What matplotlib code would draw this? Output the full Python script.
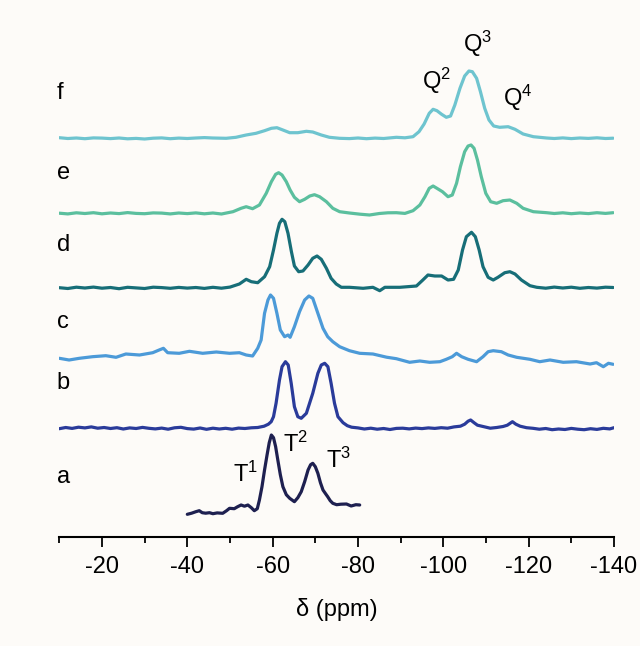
import matplotlib
matplotlib.use("Agg")
import matplotlib.pyplot as plt
from matplotlib.ticker import MultipleLocator

plt.rcParams["font.family"] = ["Liberation Sans", "DejaVu Sans"]
plt.rcParams["mathtext.fontset"] = "custom"
plt.rcParams["mathtext.rm"] = "Liberation Sans"
plt.rcParams["mathtext.default"] = "regular"
plt.rcParams["axes.unicode_minus"] = False

# 29Si NMR traces (ppm, intensity above own baseline)
a_ppm = [-40, -41, -42, -42.8, -43.5, -44.3, -45.2, -46, -47, -48.3, -49.2, -49.9, -51,
         -51.8, -52.6, -53.4, -54.2, -55, -55.7, -56.4, -56.9, -57.5, -58.1, -58.7,
         -59.2, -59.7, -60.2, -60.7, -61.2, -61.8, -62.4, -63.2, -64.0, -65.1, -65.9,
         -66.7, -67.5, -68.3, -68.9, -69.4, -70, -70.6, -71.2, -71.8, -72.4, -72.9,
         -73.5, -74.1, -75, -76, -77.3, -78.4, -79.5, -80.4]
a_int = [0.4, 1.5, 3, 4, 2, 1.5, 2, 1, 1.8, 1.4, 4, 6.4, 6,
         8, 9.7, 8.5, 9.7, 7, 4, 6, 14.7, 28, 44.7, 60,
         72, 79.7, 77, 68, 55, 40, 28, 20, 16.4, 13, 17,
         23, 33, 44.7, 50, 51.4, 48, 41.4, 32, 24.7, 21, 18,
         14, 11.4, 10, 10.5, 10.7, 8.7, 10, 9.7]

b_ppm = [-10, -11.5, -13, -14.5, -16, -17.5, -19, -20.5, -22, -23.5, -25, -26.5, -28,
         -29.5, -31, -32.5, -34, -35.5, -37, -38.5, -40, -41.5, -43, -44.5, -46, -47.5,
         -49, -50.5, -52, -53.5, -55, -56.5, -58, -59.0, -59.66, -60.2, -60.8, -61.6,
         -62.2, -63.0, -63.65, -64.35, -65.1, -65.9, -66.7, -67.9, -69.4, -70.6, -71.4,
         -72.2, -72.95, -73.7, -74.5, -75.3, -76.5, -77.5, -78.5, -80, -81.5, -83, -84.5,
         -86, -87.5, -89, -90.5, -92, -93.5, -95, -96.5, -98, -99.5, -101, -102.5, -104,
         -105, -105.8, -106.4, -107.2, -108, -109, -110, -111, -112.5, -114, -115,
         -116.2, -117, -118, -119.5, -121, -122.5, -124, -125.5, -127, -128.5, -130,
         -131.5, -133, -134.5, -136, -137.5, -139, -140]
b_int = [0, 1.2, 0.3, 1.5, 0.8, 1.8, 0.5, 1.2, 0.2, 1, -0.3, 0.8, 0.2,
         1.3, 0.4, -0.2, 0.6, -0.5, 0.9, 1.4, 0.1, -0.4, 0.7, -0.6, 0.5, -0.3,
         0.4, -0.5, 0.6, 0.2, 0.9, 1.2, 2.5, 4.5, 7, 12, 25.4, 48.7,
         62, 67, 63.7, 45.4, 22, 12, 10.4, 15.4, 35.4, 55.4, 63.7,
         65.4, 62, 45.4, 25.4, 12, 6, 3, 1.5, 0.8, -0.3, 0.5, -0.5,
         0.2, -0.8, 0.3, 0.5, -0.2, 0.6, 0.1, 0.8, 0.3, 1, 0.5, 1.8, 2.5,
         4.5, 7.5, 8.7, 6, 3.5, 2.5, 1.5, 0.5, 1.2, 2.2, 3.5,
         7, 4.5, 2.5, 1, 0.4, -0.5, 0.2, -1, -0.3, -0.8, 0.3,
         -0.5, -1, 0, -0.7, 0.4, -0.2, 1]

c_ppm = [-10, -12.3, -14.7, -17.8, -20.9, -23.3, -25.6, -28.8, -31.9, -33.4, -34.4,
         -35.4, -38.1, -40.5, -43.6, -46.8, -49.9, -52.2, -53.8, -55.3, -56.5, -57.3,
         -58.1, -58.9, -59.5, -60.2, -61.0, -61.8, -62.8, -63.6, -64.1, -65.1, -66.3,
         -67.5, -68.5, -69.4, -70.6, -71.8, -72.9, -74.1, -75.7, -78.0, -80.4, -83.5,
         -86.7, -89.0, -92.1, -94.5, -96.8, -99.2, -100.7, -102.1, -103.1, -104.3,
         -105.8, -107.8, -109.3, -110.5, -111.7, -113.6, -115.2, -117.2, -120.3,
         -122.6, -125.0, -128.1, -131.2, -134.4, -135.9, -137.5, -138.7, -139.8]
c_int = [0.4, -1.3, 0.4, 2, 3, 1.4, 4.7, 3.7, 6, 8.7, 10.4,
         6, 5.4, 7.4, 5.4, 6.7, 5.4, 6, 3.7, 2.7, 10.4, 18.7,
         45.4, 58.7, 63.7, 60.4, 45.4, 28.7, 22, 23.7, 21.4, 32, 47,
         58.7, 62.7, 60.4, 45.4, 30.4, 22, 17, 12, 8, 5.4, 4.7,
         1.5, 0, -3.6, -2.3, -3.6, -3, -0.6, 2, 5.4, 2,
         -0.6, -3, 2, 7, 8, 7, 3.7, 1.4, -0.6,
         -3, -1.3, -3.6, -3, -5.3, -4, -8, -4.6, -5.6]

d_ppm = [-10, -12, -14, -16, -18, -20, -22, -24, -26, -28, -30, -32, -34, -36, -38,
         -40, -42, -44, -46, -48, -50, -52.2, -53.8, -55.0, -56.5, -58.1, -59.3, -60.2,
         -61.0, -61.6, -62.2, -62.85, -63.6, -64.4, -65.1, -66.1, -67.1, -68.3, -69.4,
         -70.4, -71.4, -72.6, -73.7, -74.9, -76.1, -78.0, -81.2, -83.5, -85.1, -86.3,
         -89.8, -93.7, -95.2, -96.4, -98.0, -99.6, -101.1, -102.4, -103.5, -104.5,
         -105.4, -106.6, -107.5, -108.4, -109.3, -110.5, -111.7, -112.8, -114.4,
         -115.6, -116.8, -118.3, -120.3, -121.9, -124, -126, -128, -130, -132, -134,
         -136, -138, -139.8]
d_int = [0, -0.8, 0.5, -0.3, 0.6, -0.5, 0.2, -1, 0.4, -0.2, -0.8, 0.5, 0.1, -0.6, 0.3,
         -0.4, 0.2, -0.7, 0.4, -0.5, 0.6, 3.7, 8.4, 6, 5, 11, 21, 37.7,
         54.4, 64.4, 68.4, 66, 54.4, 36, 21.7, 16, 16.7, 22.7, 29.4,
         31.7, 28.4, 19.4, 9.4, 3.7, 0.4, 0.4, -0.6, 0.4, -3, 0.4,
         0.4, 1.7, 7.7, 12.7, 11.7, 11.7, 7.7, 8.4, 17.7, 37.7,
         51, 55.4, 51, 37.7, 21, 10.4, 7.7, 10.4, 15,
         16, 13.7, 7.7, 2, 0.4, -0.5, 0.6, -0.3, 0.5, -0.6, 0.2,
         -0.4, 0.5, 0.2]

e_ppm = [-10, -12, -14, -16, -18, -20, -22, -24, -26, -28, -30, -32, -34, -36, -38,
         -40, -42, -44, -46, -48, -50.7, -52.6, -53.8, -55.3, -56.9, -58.5, -59.7,
         -60.7, -61.4, -62.2, -63.2, -64.1, -65.1, -66.3, -67.5, -68.7, -69.8, -71.0,
         -72.6, -74.1, -75.7, -78, -80.5, -82.7, -85, -87, -89.0, -91, -92.9, -94.5,
         -95.7, -96.7, -97.6, -98.5, -99.8, -101.1, -102.1, -103.1, -104.0, -105.0,
         -105.8, -106.5, -107.2, -108.0, -108.9, -109.95, -111.1, -112.5, -114.0,
         -115.6, -117.2, -118.7, -121.1, -124.2, -126, -128, -130, -132, -134, -136,
         -138, -139.8]
e_int = [0, -0.7, 0.4, -0.3, 0.5, -0.6, 0.2, -0.4, 0.6, -0.2, -0.5, 0.3, 0.1, -0.7, 0.2,
         -0.4, 0.3, -0.6, 0.2, -0.8, 1.5, 4.9, 6.5, 4.5, 8.2, 19.9, 31.5,
         38.9, 40.5, 38.2, 31.5, 23.2, 15.9, 11.5, 13.9, 17.2, 18.5, 16.5,
         11.5, 4.9, 1.5, 0.2, -1, -1.8, -0.3, 0.4, 0.5, -0.2, 2.5, 8.2,
         16.5, 24.9, 27.2, 24.9, 21.5, 16.5, 18.2, 29.9, 46.5, 61.5,
         67.2, 68.2, 64.9, 53.2, 36.5, 19.9, 11.5, 9.9, 12.5,
         13.2, 9.9, 4.9, 1.5, 0.5, -0.3, 0.4, -0.5, 0.2, -0.4, 0.5,
         -0.2, 0.5]

f_ppm = [-10, -12, -14, -16, -18, -20, -22, -24, -26, -28, -30, -32, -34, -36, -38,
         -40, -42, -44, -46, -49.1, -51.4, -53.8, -56.1, -58.1, -59.7, -61.0, -62.4,
         -64.0, -65.9, -67.9, -69.4, -71.4, -73.3, -75.7, -78, -80, -82, -84, -86, -89.0,
         -91, -92.9, -94.3, -95.5, -96.7, -97.6, -98.5, -99.6, -100.7, -101.7, -102.7,
         -103.9, -105.0, -106.0, -106.8, -107.8, -108.7, -109.7, -110.7, -111.8, -113.2,
         -115.2, -116.8, -118.7, -121.1, -124.2, -126, -128, -130, -132, -134, -136,
         -138, -139.8]
f_int = [0.5, -0.3, 0.2, -0.5, 0.3, 0.1, -0.4, 0.2, -0.6, -0.2, -0.8, 0, 0.3, -0.5, 0.1,
         -0.3, 0.2, 0.6, 0.2, -0.1, 0.9, 3.2, 4.9, 7.5, 9.9, 10.5, 8.2,
         5.5, 5.5, 6.9, 6.2, 3.2, 0.9, -0.1, -0.4, 0.2, -0.5, 0.1, -0.3, 0.9,
         0.4, 1.5, 6.5, 14.2, 24.9, 28.9, 27.5, 23.9, 20.9, 22.2, 33.2,
         49.9, 62.2, 67.2, 66.5, 59.9, 46.5, 29.9, 18.2, 12.2, 10.9,
         11.5, 8.9, 4.2, 1.5, 0.2, -0.3, 0.3, -0.4, 0.2, -0.2, 0.4,
         -0.3, 0]

names = ["a", "b", "c", "d", "e", "f"]
series = [(a_ppm, a_int), (b_ppm, b_int), (c_ppm, c_int),
          (d_ppm, d_int), (e_ppm, e_int), (f_ppm, f_int)]

# stacking offsets and label heights (plot units)
offsets = [22, 108, 178, 249, 323.5, 398.5]
label_y = [59.7, 153.7, 214.7, 291.7, 363.7, 443.7]
colors = ["#1e2050", "#2a3b9a", "#4c9ad8", "#176e78", "#5bbf9e", "#6ec4cf"]

# peak assignments: text, ppm, baseline height
peaks = [(r"T$^{1}$", -50.8, 54.4), (r"T$^{2}$", -62.4, 84.4), (r"T$^{3}$", -72.6, 68.4),
         (r"Q$^{2}$", -94.9, 447.7), (r"Q$^{3}$", -104.6, 485.2), (r"Q$^{4}$", -114.0, 431.2)]

bg = "#fdfbf8"
fig = plt.figure(figsize=(6.4, 6.46), dpi=100, facecolor=bg)
ax = fig.add_axes([59.3 / 640, 109.3 / 646, 554.7 / 640, 516.7 / 646])
ax.set_facecolor(bg)

for (x, y), off, col in zip(series, offsets, colors):
    ax.plot(x, [v + off for v in y], color=col, lw=2.3,
            solid_joinstyle="round", solid_capstyle="round")

for name, ly in zip(names, label_y):
    ax.text(-9.35, ly, name, fontsize=17, ha="left", va="center")

for txt, px, py in peaks:
    ax.text(px, py, txt, fontsize=17, ha="left", va="baseline")

ax.set_xlim(-10, -140)
ax.set_ylim(0, 516.7)
for s in ["left", "right", "top"]:
    ax.spines[s].set_visible(False)
ax.spines["bottom"].set_linewidth(1.5)
ax.set_yticks([])
ax.xaxis.set_major_locator(MultipleLocator(20))
ax.xaxis.set_minor_locator(MultipleLocator(10))
ax.set_xticks(range(-20, -141, -20))
ax.tick_params(axis="x", which="major", length=7, width=1.3, labelsize=17, pad=7)
ax.tick_params(axis="x", which="minor", length=4.5, width=1.3)
ax.set_xlabel("\u03b4 (ppm)", fontsize=17, labelpad=14)

fig.savefig("out.png", dpi=100, facecolor=bg)
